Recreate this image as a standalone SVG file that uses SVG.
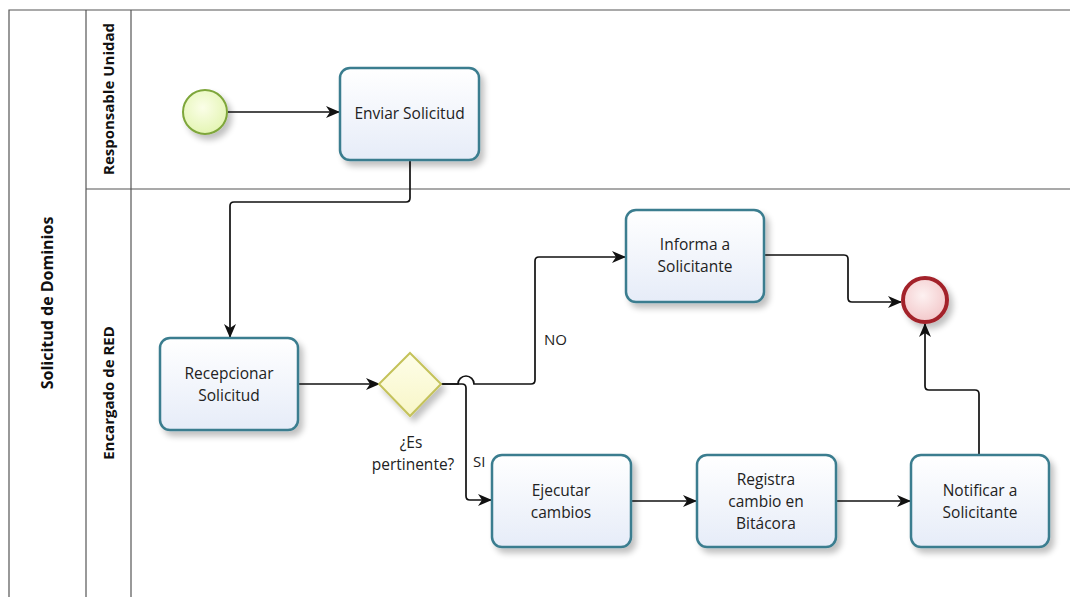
<svg xmlns="http://www.w3.org/2000/svg" width="1070" height="597" viewBox="0 0 1070 597">
  <defs>
    <linearGradient id="taskFill" x1="0" y1="0" x2="0" y2="1">
      <stop offset="0" stop-color="#ffffff"/>
      <stop offset="1" stop-color="#e6ecf8"/>
    </linearGradient>
    <radialGradient id="startFill" cx="0.45" cy="0.4" r="0.6">
      <stop offset="0" stop-color="#fbfee8"/>
      <stop offset="1" stop-color="#e4f5b4"/>
    </radialGradient>
    <radialGradient id="endFill" cx="0.45" cy="0.4" r="0.6">
      <stop offset="0" stop-color="#fdf1f1"/>
      <stop offset="1" stop-color="#f3c8ca"/>
    </radialGradient>
    <linearGradient id="gwFill" x1="0" y1="0" x2="0" y2="1">
      <stop offset="0" stop-color="#fefee8"/>
      <stop offset="1" stop-color="#f8f6c8"/>
    </linearGradient>
    <filter id="shadow" x="-20%" y="-20%" width="150%" height="150%">
      <feGaussianBlur in="SourceAlpha" stdDeviation="3"/>
      <feOffset dx="4" dy="5" result="b"/>
      <feComponentTransfer><feFuncA type="linear" slope="0.25"/></feComponentTransfer>
      <feMerge><feMergeNode/><feMergeNode in="SourceGraphic"/></feMerge>
    </filter>
    <marker id="arrow" viewBox="0 0 14 12" refX="13" refY="6" markerWidth="14" markerHeight="12" markerUnits="userSpaceOnUse" orient="auto">
      <path d="M0,0 L14,6 L0,12 L4,6 z" fill="#111"/>
    </marker>
  </defs>
  <style>
    .pool { fill: none; stroke: #555; stroke-width: 1.2; }
    .task rect { fill: url(#taskFill); stroke: #3a7d8f; stroke-width: 2.5; filter: url(#shadow); }
    .label { font-family: "Open Sans", "Noto Sans", sans-serif; font-size: 15.5px; fill: #222; text-anchor: middle; }
    .lane { font-family: "Open Sans", "Noto Sans", sans-serif; font-size: 15px; font-weight: bold; fill: #111; text-anchor: middle; }
    .flow { fill: none; stroke: #111; stroke-width: 1.7; }
    .flowlabel { font-family: "Open Sans", "Noto Sans", sans-serif; font-size: 15px; fill: #222; }
  </style>

  <rect width="1070" height="597" fill="#ffffff"/>

  <g id="pool">
    <path class="pool" d="M9,597 V10 H1070"/>
    <line class="pool" x1="86" y1="10" x2="86" y2="597"/>
    <line class="pool" x1="131" y1="10" x2="131" y2="597"/>
    <line class="pool" x1="86" y1="189" x2="1070" y2="189"/>
    <text class="lane" style="font-size:16px" transform="translate(53,303) rotate(-90)">Solicitud de Dominios</text>
    <text class="lane" transform="translate(114,99) rotate(-90)">Responsable Unidad</text>
    <text class="lane" transform="translate(114,393) rotate(-90)">Encargado de RED</text>
  </g>

  <g id="connectors">
    <path class="flow" d="M228,112 H339" marker-end="url(#arrow)"/>
    <path class="flow" d="M410,160 V198 Q410,202 406,202 H234 Q230,202 230,206 V337" marker-end="url(#arrow)"/>
    <path class="flow" d="M298,384 H379" marker-end="url(#arrow)"/>
    <path class="flow" d="M441,384 H458 A8,8 0 0 1 474,384 H531 Q535,384 535,380 V261 Q535,257 539,257 H625" marker-end="url(#arrow)"/>
    <path class="flow" d="M441,384 H462 Q466,384 466,388 V496 Q466,500 470,500 H491" marker-end="url(#arrow)"/>
    <path class="flow" d="M632,501 H696" marker-end="url(#arrow)"/>
    <path class="flow" d="M836,501 H910" marker-end="url(#arrow)"/>
    <path class="flow" d="M764,255 H844 Q848,255 848,259 V298 Q848,302 852,302 H901" marker-end="url(#arrow)"/>
    <path class="flow" d="M979,455 V394 Q979,390 975,390 H929 Q925,390 925,386 V324" marker-end="url(#arrow)"/>
    <text class="flowlabel" x="544" y="345">NO</text>
    <text class="flowlabel" x="473" y="467">SI</text>
  </g>

  <g id="start">
    <circle cx="205" cy="112" r="22" fill="url(#startFill)" stroke="#7ea63a" stroke-width="2" filter="url(#shadow)"/>
  </g>

  <g id="enviar" class="task">
    <rect x="340" y="68" width="139" height="92" rx="10"/>
    <text class="label" x="409.5" y="119">Enviar Solicitud</text>
  </g>

  <g id="recepcionar" class="task">
    <rect x="160" y="338" width="138" height="92" rx="10"/>
    <text class="label" x="229" y="379">Recepcionar</text>
    <text class="label" x="229" y="401">Solicitud</text>
  </g>

  <g id="gateway">
    <polygon points="410,353 441,384 410,416 379,384" fill="url(#gwFill)" stroke="#c4c25a" stroke-width="2" filter="url(#shadow)"/>
    <text class="label" x="411" y="448">¿Es</text>
    <text class="label" x="413" y="470">pertinente?</text>
  </g>

  <g id="informa" class="task">
    <rect x="626" y="210" width="138" height="92" rx="10"/>
    <text class="label" x="695" y="250">Informa a</text>
    <text class="label" x="695" y="272">Solicitante</text>
  </g>

  <g id="ejecutar" class="task">
    <rect x="492" y="455" width="139" height="92" rx="10"/>
    <text class="label" x="561" y="496">Ejecutar</text>
    <text class="label" x="561" y="518">cambios</text>
  </g>

  <g id="registra" class="task">
    <rect x="697" y="455" width="139" height="92" rx="10"/>
    <text class="label" x="766" y="485">Registra</text>
    <text class="label" x="766" y="507">cambio en</text>
    <text class="label" x="766" y="529">Bitácora</text>
  </g>

  <g id="notificar" class="task">
    <rect x="911" y="455" width="138" height="92" rx="10"/>
    <text class="label" x="980" y="496">Notificar a</text>
    <text class="label" x="980" y="518">Solicitante</text>
  </g>

  <g id="end">
    <circle cx="925" cy="300" r="22" fill="url(#endFill)" stroke="#a3232a" stroke-width="4" filter="url(#shadow)"/>
  </g>
</svg>
